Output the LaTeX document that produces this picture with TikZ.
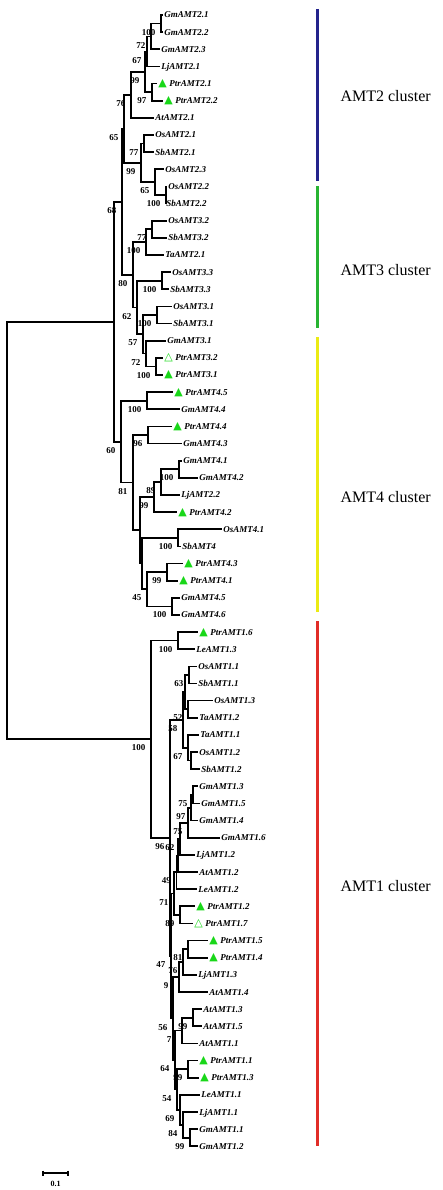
\documentclass[tikz,border=0pt]{standalone}
\usepackage{fontspec}
\setmainfont{Liberation Serif}
\newfontfamily\symfont{DejaVu Sans}

\definecolor{trigreen}{RGB}{25,215,25}
\definecolor{amttwo}{RGB}{35,35,140}
\definecolor{amtthree}{RGB}{40,180,50}
\definecolor{amtfour}{RGB}{235,235,20}
\definecolor{amtone}{RGB}{225,45,40}

\newcommand\filltri{{\symfont\fontsize{11}{11}\selectfont\color{trigreen}▲}\hspace{2.5pt}}
\newcommand\opentri{{\symfont\fontsize{11}{11}\selectfont\color{trigreen}△}\hspace{2.5pt}}

\begin{document}
\begin{tikzpicture}[x=1pt, y=-17.14pt,
    br/.style={line width=1.7pt},
    leaf/.style={anchor=west, inner sep=1.2pt, text height=6pt, text depth=0pt,
      font=\fontsize{9}{10}\selectfont\bfseries\itshape},
    bs/.style={font=\fontsize{9}{10}\selectfont\bfseries, inner sep=0.5pt, label distance=7pt},
    clbar/.style={line width=3pt},
    clname/.style={anchor=west, font=\fontsize{16}{18}\selectfont}]
    \useasboundingbox (0,-0.875) rectangle (442,68.55);

    % leaves
    \foreach \nm/\tx/\i/\lab in {gm21/163/0/GmAMT2.1, gm22/163/1/GmAMT2.2, gm23/160/2/GmAMT2.3,
        lj21/160/3/LjAMT2.1, at21/154/6/AtAMT2.1, os21/154/7/OsAMT2.1, sb21/154/8/SbAMT2.1,
        os23/164/9/OsAMT2.3, os22/167/10/OsAMT2.2, sb22/165/11/SbAMT2.2,
        os32/167/12/OsAMT3.2, sb32/167/13/SbAMT3.2, ta21/164/14/TaAMT2.1, os33/171/15/OsAMT3.3,
        sb33/169/16/SbAMT3.3, os31/172/17/OsAMT3.1, sb31/172/18/SbAMT3.1, gm31/166/19/GmAMT3.1,
        gm44/180/23/GmAMT4.4, gm43/182/25/GmAMT4.3, gm41/182/26/GmAMT4.1, gm42/198/27/GmAMT4.2,
        lj22/180/28/LjAMT2.2, os41/222/30/OsAMT4.1, sb4/181/31/SbAMT4, gm45/180/34/GmAMT4.5,
        gm46/180/35/GmAMT4.6,
        le13/195/37/LeAMT1.3, os11/197/38/OsAMT1.1, sb11/197/39/SbAMT1.1, os13/213/40/OsAMT1.3,
        ta12/198/41/TaAMT1.2, ta11/199/42/TaAMT1.1, os12/198/43/OsAMT1.2, sb12/200/44/SbAMT1.2,
        gm13/198/45/GmAMT1.3, gm15/200/46/GmAMT1.5, gm14/198/47/GmAMT1.4, gm16/220/48/GmAMT1.6,
        lj12/195/49/LjAMT1.2, at12/198/50/AtAMT1.2, le12/197/51/LeAMT1.2, lj13/197/56/LjAMT1.3,
        at14/208/57/AtAMT1.4, at13/202/58/AtAMT1.3, at15/202/59/AtAMT1.5, at11/198/60/AtAMT1.1,
        le11/200/63/LeAMT1.1, lj11/198/64/LjAMT1.1, gm11/198/65/GmAMT1.1, gm12/198/66/GmAMT1.2} {
        \node[leaf] (\nm) at (\tx,\i) {\lab};
      }
    \foreach \nm/\tx/\i/\lab in {ptr21/157/4/PtrAMT2.1, ptr22/163/5/PtrAMT2.2, ptr31/163/21/PtrAMT3.1,
        ptr45/173/22/PtrAMT4.5, ptr44/172/24/PtrAMT4.4, ptr42/177/29/PtrAMT4.2, ptr43/183/32/PtrAMT4.3,
        ptr41/178/33/PtrAMT4.1, ptr16/198/36/PtrAMT1.6, ptr12/195/52/PtrAMT1.2, ptr15/208/54/PtrAMT1.5,
        ptr14/208/55/PtrAMT1.4, ptr11/198/61/PtrAMT1.1, ptr13/199/62/PtrAMT1.3} {
        \node[leaf] (\nm) at (\tx,\i) {\filltri\lab};
      }
    \foreach \nm/\tx/\i/\lab in {ptr32/163/20/PtrAMT3.2, ptr17/193/53/PtrAMT1.7} {
        \node[leaf] (\nm) at (\tx,\i) {\opentri\lab};
      }

    % AMT2 clade
    \coordinate[label={[bs]below left:100}] (na) at (161,0.5);
    \coordinate[label={[bs]below left:72}] (nb) at (151,1.25);
    \coordinate[label={[bs]below left:67}] (nc) at (147,2.125);
    \coordinate[label={[bs]below left:97}] (nd) at (152,4.5);
    \coordinate[label={[bs]below left:99}] (ne) at (145,3.3125);
    \coordinate[label={[bs]below left:76}] (nf) at (131,4.656);
    \coordinate[label={[bs]below left:77}] (ng) at (144,7.5);
    \coordinate[label={[bs]below left:100}] (nh) at (166,10.5);
    \coordinate[label={[bs]below left:65}] (ni) at (155,9.75);
    \coordinate[label={[bs]below left:99}] (nj) at (141,8.625);
    \coordinate[label={[bs]below left:65}] (nk) at (124,6.641);

    % AMT3 clade
    \coordinate[label={[bs]below left:77}] (ta) at (152,12.5);
    \coordinate[label={[bs]below left:100}] (tb) at (146,13.25);
    \coordinate[label={[bs]below left:100}] (tc) at (162,15.5);
    \coordinate[label={[bs]below left:100}] (td) at (157,17.5);
    \coordinate[label={[bs]below left:100}] (te) at (156,20.5);
    \coordinate[label={[bs]below left:72}] (tf) at (146,19.75);
    \coordinate[label={[bs]below left:57}] (tg) at (143,18.625);
    \coordinate[label={[bs]below left:62}] (th) at (137,17.0625);
    \coordinate[label={[bs]below left:80}] (tr) at (133,15.156);
    \coordinate[label={[bs]below left:68}] (nP) at (122,10.898);

    % AMT4 clade
    \coordinate[label={[bs]below left:100}] (fa) at (147,22.5);
    \coordinate[label={[bs]below left:96}] (fb) at (148,24.5);
    \coordinate[label={[bs]below left:100}] (fc) at (179,26.5);
    \coordinate[label={[bs]below left:89}] (fd) at (161,27.25);
    \coordinate[label={[bs]below left:99}] (fe) at (154,28.125);
    \coordinate[label={[bs]below left:100}] (ff) at (178,30.5);
    \coordinate[label={[bs]below left:99}] (fg) at (167,32.5);
    \coordinate[label={[bs]below left:100}] (fh) at (172,34.5);
    \coordinate[label={[bs]below left:45}] (fi) at (147,33.5);
    \coordinate (fj) at (142,32);
    \coordinate (fk) at (140,30.0625);
    \coordinate[label={[bs]below left:81}] (fl) at (133,27.281);
    \coordinate[label={[bs]below left:60}] (fr) at (121,24.891);
    \coordinate (nX) at (114,17.895);

    % AMT1 clade
    \coordinate[label={[bs]below left:100}] (oa) at (178,36.5);
    \coordinate[label={[bs]below left:63}] (ga) at (189,38.5);
    \coordinate[label={[bs]below left:52}] (gb) at (188,40.5);
    \coordinate (gc) at (185,39.5);
    \coordinate (gd) at (191,43.5);
    \coordinate[label={[bs]below left:67}] (ge) at (188,42.75);
    \coordinate[label={[bs]below left:58}] (gf) at (183,41.125);
    \coordinate[label={[bs]below left:75}] (ma) at (193,45.5);
    \coordinate[label={[bs]below left:97}] (mb) at (191,46.25);
    \coordinate[label={[bs]below left:75}] (mc) at (188,47.125);
    \coordinate[label={[bs]below left:62}] (md) at (180,48.0625);
    \coordinate (me) at (178,49.031);
    \coordinate[label={[bs]below left:49}] (mf) at (176.5,50.016);
    \coordinate[label={[bs]below left:89}] (mg) at (180,52.5);
    \coordinate[label={[bs]below left:71}] (mh) at (174,51.258);
    \coordinate[label={[bs]below left:81}] (pa) at (188,54.5);
    \coordinate[label={[bs]below left:76}] (pb) at (183,55.25);
    \coordinate[label={[bs,xshift=-5pt]below left:9}] (pc) at (179,56.125);
    \coordinate[label={[bs]below left:99}] (aa) at (193,58.5);
    \coordinate[label={[bs,xshift=-5pt]below left:7}] (ab) at (182,59.25);
    \coordinate[label={[bs]below left:99}] (qa) at (188,61.5);
    \coordinate[label={[bs]below left:99}] (qb) at (190,65.5);
    \coordinate[label={[bs]below left:84}] (qc) at (183,64.75);
    \coordinate[label={[bs]below left:69}] (qd) at (180,63.875);
    \coordinate[label={[bs]below left:54}] (qe) at (177,62.688);
    \coordinate[label={[bs]below left:64}] (qf) at (175,60.969);
    \coordinate[label={[bs]below left:56}] (qg) at (173,58.547);
    \coordinate[label={[bs]below left:47}] (nD) at (171,54.902);
    \coordinate[label={[bs]below left:96}] (nC) at (170,48.014);
    \coordinate[label={[bs]below left:100}] (nB) at (151,42.257);
    \coordinate (root) at (7,30.076);

    % branches
    \foreach \p/\c in {root/nX, root/nB, nX/nP, nX/fr, nP/nk, nP/tr, nk/nf, nk/nj,
        nf/ne, nf/at21, ne/nc, ne/nd, nc/nb, nc/lj21, nb/na, nb/gm23, na/gm21, na/gm22,
        nd/ptr21, nd/ptr22, nj/ng, nj/ni, ng/os21, ng/sb21, ni/os23, ni/nh, nh/os22, nh/sb22,
        tr/tb, tr/th, tb/ta, tb/ta21, ta/os32, ta/sb32, th/tc, th/tg, tc/os33, tc/sb33,
        tg/td, tg/tf, td/os31, td/sb31, tf/gm31, tf/te, te/ptr32, te/ptr31,
        fr/fa, fr/fl, fa/ptr45, fa/gm44, fl/fb, fl/fk, fb/ptr44, fb/gm43, fk/fe, fk/fj,
        fe/fd, fe/ptr42, fd/fc, fd/lj22, fc/gm41, fc/gm42, fj/ff, fj/fi, ff/os41, ff/sb4,
        fi/fg, fi/fh, fg/ptr43, fg/ptr41, fh/gm45, fh/gm46,
        nB/oa, nB/nC, oa/ptr16, oa/le13, nC/gf, nC/nD, gf/gc, gf/ge, gc/ga, gc/gb,
        ga/os11, ga/sb11, gb/os13, gb/ta12, ge/ta11, ge/gd, gd/os12, gd/sb12,
        nD/mh, nD/qg, mh/mf, mh/mg, mf/me, mf/le12, me/md, me/at12, md/mc, md/lj12,
        mc/mb, mc/gm16, mb/ma, mb/gm14, ma/gm13, ma/gm15, mg/ptr12, mg/ptr17,
        qg/pc, qg/qf, pc/pb, pc/at14, pb/pa, pb/lj13, pa/ptr15, pa/ptr14,
        qf/ab, qf/qe, ab/aa, ab/at11, aa/at13, aa/at15, qe/qa, qe/qd, qa/ptr11, qa/ptr13,
        qd/le11, qd/qc, qc/lj11, qc/qb, qb/gm11, qb/gm12} {
        \draw[br] (\p) |- (\c);
      }

    % cluster bars
    \draw[clbar, amttwo] (317,-0.35) -- (317,9.685);
    \draw[clbar, amtthree] (317,9.977) -- (317,18.26);
    \draw[clbar, amtfour] (317,18.79) -- (317,34.83);
    \draw[clbar, amtone] (317,35.36) -- (317,65.99);
    \node[clname] (amt2) at (337,4.726) {AMT2 cluster};
    \node[clname] (amt3) at (337,14.88) {AMT3 cluster};
    \node[clname] (amt4) at (337,28.1) {AMT4 cluster};
    \node[clname] (amt1) at (337,50.82) {AMT1 cluster};

    % scale bar
    \coordinate (sb0) at (43,67.56);
    \coordinate (sb1) at (68,67.56);
    \draw[br] (sb0) -- (sb1);
    \draw[line width=1.2pt] ([yshift=2.5pt]sb0) -- ([yshift=-2.5pt]sb0);
    \draw[line width=1.2pt] ([yshift=2.5pt]sb1) -- ([yshift=-2.5pt]sb1);
    \node[font=\fontsize{8}{9}\selectfont\bfseries, inner sep=1pt] (sbtext) at (55.5,68.2) {0.1};
  \end{tikzpicture}
\end{document}
